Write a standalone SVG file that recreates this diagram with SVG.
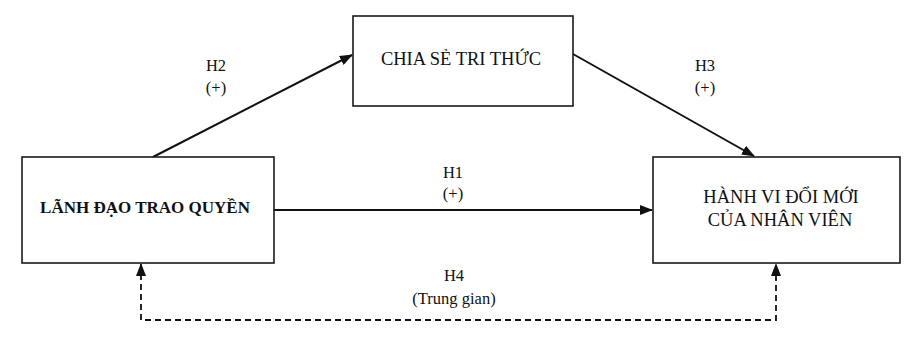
<svg xmlns="http://www.w3.org/2000/svg" width="918" height="344" viewBox="0 0 918 344">
<style>
.box{fill:#fff;stroke:#1a1a1a;stroke-width:1.6}
.t{font-family:"Liberation Serif","Times New Roman",serif;fill:#111;text-anchor:middle}
.big{font-size:18.5px}
.bold{font-size:17px;font-weight:bold}
.lab{font-size:16.5px}
.ln{fill:none;stroke:#111;stroke-width:2}
.dash{fill:none;stroke:#111;stroke-width:1.8;stroke-dasharray:6 4}
</style>
<defs>
<marker id="ah" markerWidth="13" markerHeight="10" refX="12" refY="5" orient="auto-start-reverse" markerUnits="userSpaceOnUse">
<path d="M0,0 L13,5 L0,10 Z" fill="#111"/>
</marker>
</defs>
<rect width="918" height="344" fill="#fff"/>
<g id="connectors">
<line class="ln" x1="153" y1="157" x2="352" y2="55" marker-end="url(#ah)"/>
<line class="ln" x1="573" y1="54" x2="754" y2="156" marker-end="url(#ah)"/>
<line class="ln" x1="274" y1="210" x2="652" y2="210" marker-end="url(#ah)"/>
<path class="dash" d="M141,264 V320 H776 V264" marker-start="url(#ah)" marker-end="url(#ah)"/>
<text class="t lab" x="216" y="71">H2</text>
<text class="t lab" x="216" y="93">(+)</text>
<text class="t lab" x="705" y="71">H3</text>
<text class="t lab" x="705" y="93">(+)</text>
<text class="t lab" x="453" y="178">H1</text>
<text class="t lab" x="453" y="199">(+)</text>
<text class="t lab" x="454" y="281">H4</text>
<text class="t lab" x="454" y="304">(Trung gian)</text>
</g>
<g id="node-lanh-dao">
<rect class="box" x="22" y="157" width="252" height="106"/>
<text class="t bold" x="145" y="213">LÃNH ĐẠO TRAO QUYỀN</text>
</g>
<g id="node-chia-se">
<rect class="box" x="353" y="16" width="220" height="90"/>
<text class="t big" x="461" y="65">CHIA SẺ TRI THỨC</text>
</g>
<g id="node-hanh-vi">
<rect class="box" x="653" y="157" width="247" height="106"/>
<text class="t big" x="781" y="203">HÀNH VI ĐỔI MỚI</text>
<text class="t big" x="780" y="226">CỦA NHÂN VIÊN</text>
</g>
</svg>
